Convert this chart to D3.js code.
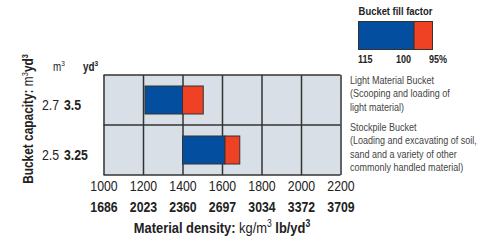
<!DOCTYPE html>
<html>
<head>
<meta charset="utf-8">
<script src="https://cdn.jsdelivr.net/npm/d3@7"></script>
<style>
body { margin: 0; background: #fff; }
svg text { font-family: "Liberation Sans", Arial, sans-serif; fill: #222; }
</style>
</head>
<body>
<div id="chart"></div>
<script>
var w = 504, h = 243;

// data
var buckets = ["Light Material Bucket", "Stockpile Bucket"];
var capacityM3 = ["2.7", "2.5"];
var capacityYd3 = ["3.5", "3.25"];
var fill115 = [1210, 1400];   // density at 115% fill
var fill100 = [1400, 1615];   // density at 100% fill
var fill95 = [1505, 1690];    // density at 95% fill
var densityTicks = [1000, 1200, 1400, 1600, 1800, 2000, 2200];
var lbTicks = ["1686", "2023", "2360", "2697", "3034", "3372", "3709"];
var legendLabels = ["115", "100", "95%"];
var descriptions = [
    ["Light Material Bucket", "(Scooping and loading of", "light material)"],
    ["Stockpile Bucket", "(Loading and excavating of soil,", "sand and a variety of other", "commonly handled material)"]
];

var blue = "#044ea0", red = "#ef4124", gridFill = "#d9dfe6", dark = "#333";
var sx = 0.82; // narrow font look, no narrow face installed

var svg = d3.select("#chart").append("svg")
    .attr("width", w)
    .attr("height", h);

// text placed at (tx,ty) and squeezed horizontally
function label(tx, ty, k) {
    return svg.append("text")
        .attr("transform", "translate(" + tx + "," + ty + ") scale(" + (k || sx) + ",1)");
}

var x = d3.scaleLinear().domain([1000, 2200]).range([103.5, 340.5]);
var y = d3.scaleBand().domain(buckets).range([75, 175]);

// plot background
svg.append("rect")
    .attr("x", x(1000)).attr("y", 75)
    .attr("width", x(2200) - x(1000)).attr("height", 100)
    .attr("fill", gridFill);

// vertical grid
svg.append("g")
    .attr("transform", "translate(0,75)")
    .call(d3.axisBottom(x).tickValues(densityTicks).tickSize(100).tickFormat(""))
    .call(function (g) {
        g.select(".domain").remove();
        g.selectAll("line").attr("stroke", dark).attr("stroke-width", 1.5);
    });

// horizontal grid
svg.selectAll(".hline")
    .data([75, 125, 175])
    .enter().append("line")
    .attr("x1", x(1000)).attr("x2", x(2200))
    .attr("y1", function (d) { return d; }).attr("y2", function (d) { return d; })
    .attr("stroke", dark).attr("stroke-width", 1.5);

// bars
var barH = 28;
buckets.forEach(function (b, i) {
    var yy = y(b) + (y.bandwidth() - barH) / 2;
    svg.append("rect")
        .attr("x", x(fill115[i])).attr("y", yy)
        .attr("width", x(fill100[i]) - x(fill115[i])).attr("height", barH)
        .attr("fill", blue).attr("stroke", dark).attr("stroke-width", 1);
    svg.append("rect")
        .attr("x", x(fill100[i])).attr("y", yy)
        .attr("width", x(fill95[i]) - x(fill100[i])).attr("height", barH)
        .attr("fill", red).attr("stroke", dark).attr("stroke-width", 1);

    // capacity labels
    var t = label(42, y(b) + y.bandwidth() / 2 + 10).style("font-size", "15px");
    t.append("tspan").text(capacityM3[i]);
    t.append("tspan").attr("dx", 6).style("font-weight", "bold").text(capacityYd3[i]);
});

// unit header over capacity labels
var um = label(53, 71).style("font-size", "12px");
um.append("tspan").text("m");
um.append("tspan").attr("dy", -5).style("font-size", "8px").text("3");
var uy = label(83, 71).style("font-size", "12px").style("font-weight", "bold");
uy.append("tspan").text("yd");
uy.append("tspan").attr("dy", -5).style("font-size", "8px").text("3");

// rotated y title
var yt = svg.append("text")
    .attr("transform", "translate(33,119) rotate(-90) scale(" + sx + ",1)")
    .attr("text-anchor", "middle")
    .style("font-size", "14.5px");
yt.append("tspan").style("font-weight", "bold").text("Bucket capacity: ");
yt.append("tspan").text("m");
yt.append("tspan").attr("dy", -5).style("font-size", "9px").text("3");
yt.append("tspan").attr("dy", 5).style("font-weight", "bold").text("yd");
yt.append("tspan").attr("dy", -5).style("font-size", "9px").style("font-weight", "bold").text("3");

// kg/m3 tick labels
svg.append("g")
    .attr("transform", "translate(0,175)")
    .call(d3.axisBottom(x).tickValues(densityTicks).tickSize(0).tickPadding(5).tickFormat(d3.format("d")))
    .call(function (g) {
        g.select(".domain").remove();
        g.selectAll("text").style("font-size", "15px").attr("fill", "#222")
            .style("font-family", "'Liberation Sans', Arial, sans-serif")
            .attr("transform", "scale(" + sx + ",1)");
    });

// lb/yd3 tick labels
svg.append("g")
    .attr("transform", "translate(0,196)")
    .call(d3.axisBottom(x).tickValues(densityTicks).tickSize(0).tickPadding(5)
        .tickFormat(function (d, i) { return lbTicks[i]; }))
    .call(function (g) {
        g.select(".domain").remove();
        g.selectAll("text").style("font-size", "15px").style("font-weight", "bold").attr("fill", "#222")
            .style("font-family", "'Liberation Sans', Arial, sans-serif")
            .attr("transform", "scale(" + sx + ",1)");
    });

// x title
var xt = label((x(1000) + x(2200)) / 2, 233, 0.86)
    .attr("text-anchor", "middle")
    .style("font-size", "15px");
xt.append("tspan").style("font-weight", "bold").text("Material density: ");
xt.append("tspan").text("kg/m");
xt.append("tspan").attr("dy", -6).style("font-size", "10px").text("3");
xt.append("tspan").attr("dy", 6).style("font-weight", "bold").text(" lb/yd");
xt.append("tspan").attr("dy", -6).style("font-size", "10px").style("font-weight", "bold").text("3");

// legend
var lx = d3.scaleLinear().domain([115, 95]).range([358.5, 432.5]);
label(395.5, 15).attr("text-anchor", "middle")
    .style("font-size", "11.5px").style("font-weight", "bold")
    .text("Bucket fill factor");
svg.append("rect")
    .attr("x", lx(115)).attr("y", 21.5)
    .attr("width", lx(100) - lx(115)).attr("height", 28)
    .attr("fill", blue).attr("stroke", dark).attr("stroke-width", 1);
svg.append("rect")
    .attr("x", lx(100)).attr("y", 21.5)
    .attr("width", lx(95) - lx(100)).attr("height", 28)
    .attr("fill", red).attr("stroke", dark).attr("stroke-width", 1);
var legX = [358, 411, 447];
legendLabels.forEach(function (d, i) {
    label(legX[i], 63).attr("text-anchor", i === 0 ? "start" : "end")
        .style("font-size", "11px").style("font-weight", "bold")
        .text(d);
});

// descriptions
var descY = [84, 131];
descriptions.forEach(function (lines, i) {
    label(350, descY[i])
        .style("font-size", "11px")
        .selectAll("tspan")
        .data(lines)
        .enter().append("tspan")
        .attr("x", 0)
        .attr("dy", function (d, j) { return j === 0 ? 0 : 13.5; })
        .style("fill", "#444")
        .text(function (d) { return d; });
});
</script>
</body>
</html>
